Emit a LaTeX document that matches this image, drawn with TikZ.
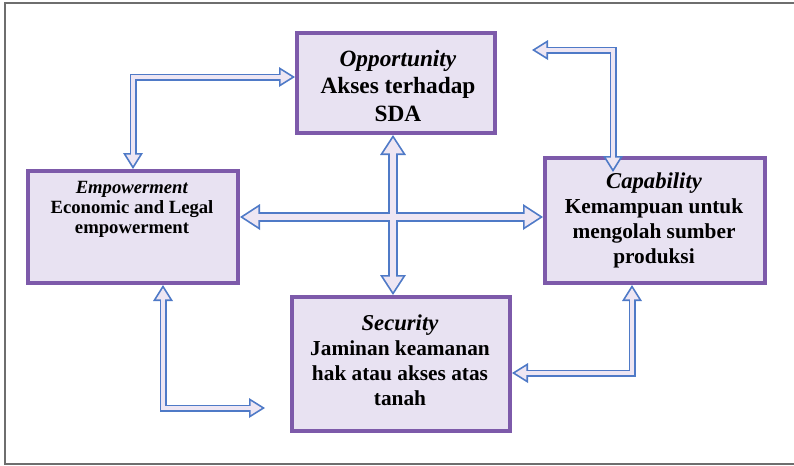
\documentclass[tikz,border=0pt]{standalone}
\usepackage{fontspec}
\setmainfont{Liberation Serif}
\usetikzlibrary{arrows.meta}

\definecolor{boxpurple}{RGB}{125,90,170}
\definecolor{boxfill}{RGB}{232,226,242}
\definecolor{arrowblue}{RGB}{79,122,199}
\definecolor{arrowfill}{RGB}{238,230,243}
\definecolor{framegray}{RGB}{110,110,110}

\tikzset{every picture/.style={line width=0.75pt}}
\tikzset{
  box/.style={draw=boxpurple, line width=3pt, fill=boxfill, inner sep=0pt},
  lbl/.style={align=center, inner sep=0.75pt},
  pipe/.style={line join=miter, <->},
  thinout/.style={pipe, draw=arrowblue, line width=5.25pt, >={Triangle[length=12pt,width=15pt,line width=0pt]}},
  thinin/.style={pipe, draw=arrowfill, line width=2.65pt, shorten <=2.45pt, shorten >=2.45pt, >={Triangle[length=8.25pt,width=10.3pt,line width=0pt]}},
  thickout/.style={pipe, draw=arrowblue, line width=7.5pt, >={Triangle[length=15pt,width=19.5pt,line width=0pt]}},
  thickin/.style={pipe, draw=arrowfill, line width=4.9pt, shorten <=2.39pt, shorten >=2.39pt, >={Triangle[length=11.31pt,width=14.7pt,line width=0pt]}}
}

\begin{document}
\begin{tikzpicture}[x=0.75pt,y=0.75pt,yscale=-1,xscale=1]
\useasboundingbox (0,0) rectangle (794,465);

%Frame
\draw [framegray, line width=1.5pt] (794,3) -- (4.5,3) -- (4.5,463.5) -- (794,463.5) ;

%Boxes
\node [box, minimum width=148.5pt, minimum height=75pt] (opp) at (396,83) {};
\node [box, minimum width=157.5pt, minimum height=84pt] (emp) at (133,227) {};
\node [box, minimum width=165pt, minimum height=93.75pt] (cap) at (655,220.5) {};
\node [box, minimum width=163.5pt, minimum height=100.5pt] (sec) at (401,364) {};

%Free ends and crossing point
\coordinate (hub) at (393,217);
\coordinate (capend) at (532,50);
\coordinate (secend) at (265,408);

%Hollow arrows: blue outline first, light fill on top
\foreach \lay in {out,in}{
  \draw [thin\lay] ([yshift=-4.5pt]opp.west) -| (emp.north) ;
  \draw [thin\lay] ([xshift=-31.5pt,yshift=12pt]cap.north) |- (capend) ;
  \draw [thin\lay] ([xshift=22.5pt]emp.south) |- (secend) ;
  \draw [thin\lay] ([yshift=6.75pt]sec.east) -| ([xshift=-17.25pt]cap.south) ;
  \draw [thick\lay] (hub |- opp.south) -- (hub |- sec.north) ;
  \draw [thick\lay] (hub -| emp.east) -- (hub -| cap.west) ;
}

% Text Node
\node [lbl, font=\bfseries\fontsize{17.5}{20.5}\selectfont] (opptxt) at (398,86) {\textit{Opportunity}\\Akses terhadap\\SDA};
% Text Node
\node [lbl, font=\bfseries\fontsize{14}{15}\selectfont] (emptxt) at (132,209) {\textit{Empowerment}\\Economic and Legal\\empowerment};
% Text Node
\node [lbl, font=\bfseries\fontsize{16}{18.75}\selectfont] (captxt) at (654,220) {{\fontsize{17}{18.75}\selectfont\itshape Capability}\\Kemampuan untuk\\mengolah sumber\\produksi};
% Text Node
\node [lbl, font=\bfseries\fontsize{16}{18.75}\selectfont] (sectxt) at (400,360) {{\fontsize{17}{18.75}\selectfont\itshape Security}\\Jaminan keamanan\\hak atau akses atas\\tanah};

\end{tikzpicture}
\end{document}
